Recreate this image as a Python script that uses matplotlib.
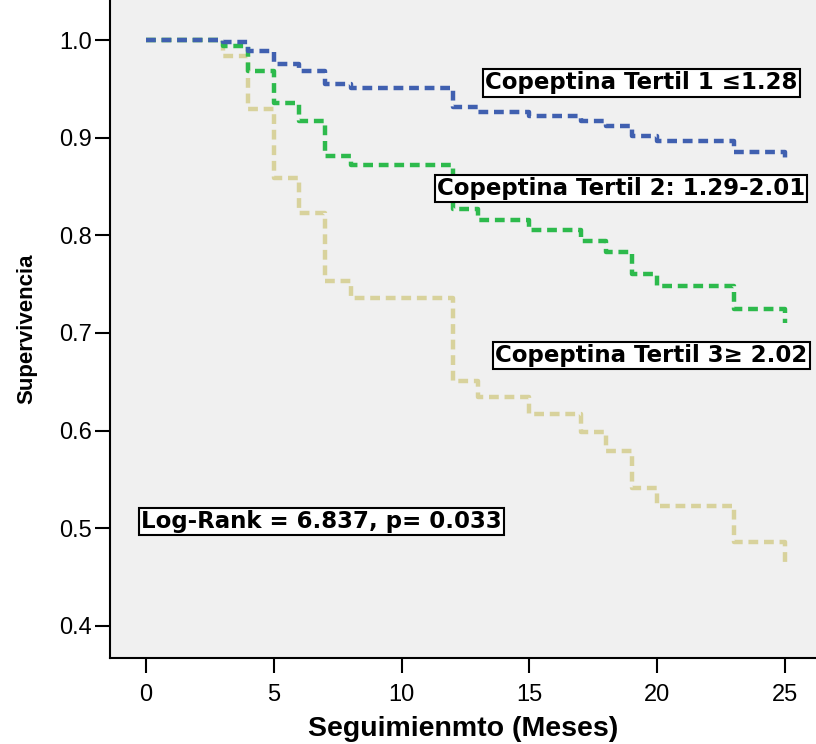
import matplotlib.pyplot as plt

# Kaplan-Meier Kurven (Tertile der Copeptina)
tiempos_1 = [0, 3, 4, 5, 6, 7, 8, 12, 13, 15, 17, 18, 19, 20, 23, 25, 25]
superv_1 = [1.0, 0.998, 0.989, 0.975, 0.968, 0.955, 0.951, 0.931, 0.926, 0.922,
            0.917, 0.912, 0.902, 0.897, 0.885, 0.881, 0.878]

tiempos_2 = [0, 3, 4, 5, 6, 7, 8, 12, 13, 15, 17, 18, 19, 20, 23, 25, 25]
superv_2 = [1.0, 0.994, 0.968, 0.935, 0.917, 0.881, 0.872, 0.827, 0.816, 0.805,
            0.794, 0.783, 0.760, 0.748, 0.724, 0.713, 0.710]

tiempos_3 = [0, 3, 4, 5, 6, 7, 8, 12, 13, 15, 17, 18, 19, 20, 23, 25, 25]
superv_3 = [1.0, 0.984, 0.929, 0.859, 0.823, 0.753, 0.736, 0.651, 0.634, 0.617,
            0.598, 0.579, 0.541, 0.523, 0.486, 0.467, 0.465]

etiquetas = ['Copeptina Tertil 1 \u22641.28',
             'Copeptina Tertil 2: 1.29-2.01',
             'Copeptina Tertil 3\u2265 2.02']
log_rank = 'Log-Rank = 6.837, p= 0.033'
colores = ['#4060B0', '#2DBA4C', '#D8D29C']

xticks = [0, 5, 10, 15, 20, 25]
yticks = [0.4, 0.5, 0.6, 0.7, 0.8, 0.9, 1.0]

plt.rcParams['font.family'] = ['Liberation Sans', 'DejaVu Sans']

fig = plt.figure(figsize=(8.16, 7.44), dpi=100)
ax = fig.add_axes([0.1348, 0.1156, 0.8652, 0.8844])
ax.set_facecolor('#F0F0F0')

estilo = (0, (2.2, 1.3))
# erst Tertil 3, dann 2, dann 1 (Blau oben)
ax.step(tiempos_3, superv_3, where='post', color=colores[2], lw=3.2, linestyle=estilo)
ax.step(tiempos_2, superv_2, where='post', color=colores[1], lw=3.2, linestyle=estilo)
ax.step(tiempos_1, superv_1, where='post', color=colores[0], lw=3.2, linestyle=estilo)

ax.set_xlim(-1.41, 26.21)
ax.set_ylim(0.367, 1.041)
ax.set_xticks(xticks)
ax.set_yticks(yticks)
ax.set_xticklabels([str(v) for v in xticks], fontsize=17)
ax.set_yticklabels(['%.1f' % v for v in yticks], fontsize=17)
ax.tick_params(axis='both', length=11, width=1.5, color='black')
ax.tick_params(axis='x', pad=8)
ax.tick_params(axis='y', pad=2)

for lado in ['top', 'right']:
    ax.spines[lado].set_visible(False)
for lado in ['left', 'bottom']:
    ax.spines[lado].set_linewidth(1.5)

ax.set_xlabel('Seguimienmto (Meses)', fontweight='bold', fontsize=20.5, labelpad=7)
ax.set_ylabel('Supervivencia', fontweight='bold', fontsize=16, labelpad=16)

# Kästchen mit breiter Schrift (wie im Original)
caja = dict(boxstyle='square,pad=0.1', facecolor='white', edgecolor='black', lw=1.5)
fuente = dict(family='DejaVu Sans', fontsize=16.5, fontweight='bold')
ax.text(19.37, 0.956, etiquetas[0], ha='center', va='center', bbox=caja, **fuente)
ax.text(18.58, 0.848, etiquetas[1], ha='center', va='center', bbox=caja, **fuente)
ax.text(19.76, 0.677, etiquetas[2], ha='center', va='center', bbox=caja, **fuente)
ax.text(-0.2, 0.507, log_rank, ha='left', va='center', bbox=caja, **fuente)

fig.savefig('out.png', dpi=100)
